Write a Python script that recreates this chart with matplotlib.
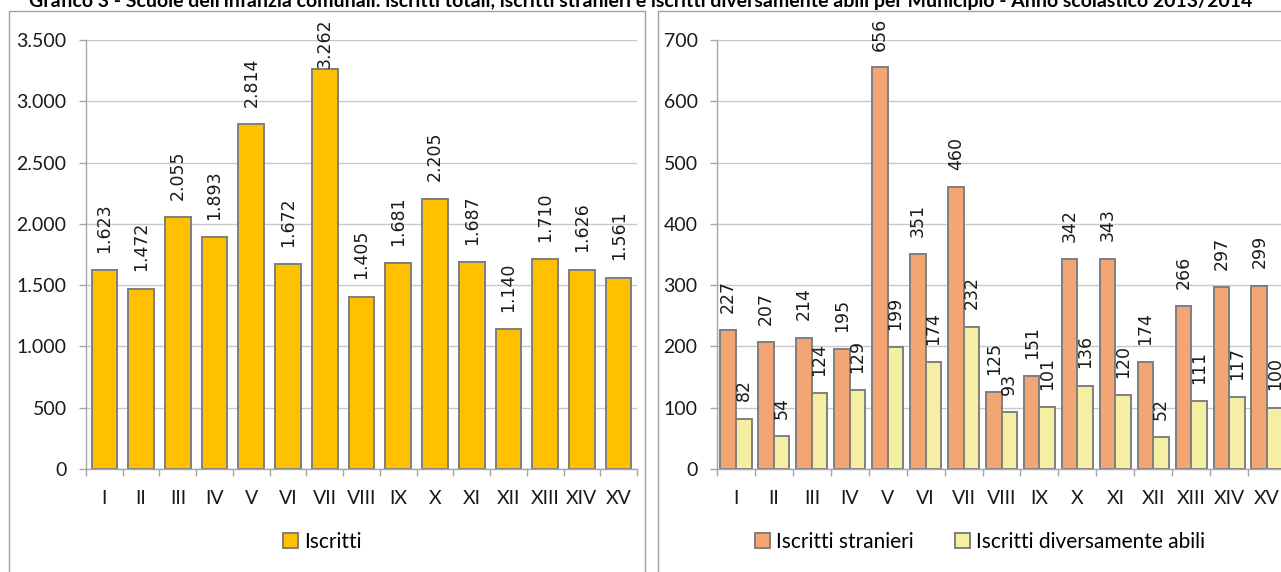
import matplotlib
matplotlib.use("Agg")
import matplotlib.pyplot as plt
import numpy as np
from matplotlib.patches import Rectangle

# data
municipi = ["I", "II", "III", "IV", "V", "VI", "VII", "VIII", "IX", "X",
            "XI", "XII", "XIII", "XIV", "XV"]
iscritti = [1623, 1472, 2055, 1893, 2814, 1672, 3262, 1405, 1681, 2205,
            1687, 1140, 1710, 1626, 1561]
stranieri = [227, 207, 214, 195, 656, 351, 460, 125, 151, 342, 343, 174,
             266, 297, 299]
disabili = [82, 54, 124, 129, 199, 174, 232, 93, 101, 136, 120, 52, 111,
            117, 100]

TITLE = ("Grafico 3 - Scuole dell'infanzia comunali: iscritti totali, iscritti stranieri "
         "e iscritti diversamente abili per Municipio - Anno scolastico 2013/2014")

W, H, DPI = 1281, 572, 100
FONT = "Lato"
LABEL_FONT = "DejaVu Sans"
EDGE = "#7F7F7F"
GOLD = "#FFC000"
ORANGE = "#F3A673"
YELLOW = "#F6EEA3"
GAP_PT = 12.5


def fmt_it(v):
    return f"{v:,.0f}".replace(",", ".")


def style_axis(ax, ymax, step):
    n = len(municipi)
    ax.set_xlim(-0.5, n - 0.5)
    ax.set_ylim(0, ymax)
    ax.set_yticks(np.arange(0, ymax + 1, step))
    ax.set_yticklabels([fmt_it(v) for v in np.arange(0, ymax + 1, step)])
    ax.set_xticks(np.arange(n))
    ax.set_xticklabels(municipi)
    ax.set_xticks(np.arange(-0.5, n), minor=True)
    ax.tick_params(axis="x", which="major", length=0, pad=15)
    ax.tick_params(axis="x", which="minor", length=5, color="#A6A6A6", width=1)
    ax.tick_params(axis="y", length=5, color="#A6A6A6", width=1, pad=9)
    for lab in ax.get_xticklabels() + ax.get_yticklabels():
        lab.set_fontfamily(FONT)
        lab.set_fontsize(14)
        lab.set_color("#1A1A1A")
    for s in ("top", "right"):
        ax.spines[s].set_visible(False)
    for s in ("left", "bottom"):
        ax.spines[s].set_color("#A6A6A6")
        ax.spines[s].set_linewidth(1)
    ax.grid(axis="y", color="#C8C8C8", linewidth=1)
    ax.set_axisbelow(True)


def add_labels(ax, xs, vals, store):
    for x, v in zip(xs, vals):
        t = ax.annotate(fmt_it(v), xy=(x, v), xytext=(0, GAP_PT),
                        textcoords="offset points", ha="center", va="bottom",
                        rotation=90, fontsize=12.5, family=LABEL_FONT,
                        color="#1A1A1A", annotation_clip=False)
        store.append(t)


fig = plt.figure(figsize=(W / DPI, H / DPI), dpi=DPI)

# panel frames
fig.patches.append(Rectangle((9 / W, -0.1), (645 - 9) / W, 1.1 - 11 / H,
                             transform=fig.transFigure, fill=False,
                             edgecolor="#A0A0A0", linewidth=1))
fig.patches.append(Rectangle((658 / W, -0.1), 0.6, 1.1 - 11 / H,
                             transform=fig.transFigure, fill=False,
                             edgecolor="#A0A0A0", linewidth=1))

fig.text(0.5, 1 - 7 / H, TITLE, ha="center", va="baseline", fontsize=14,
         fontweight="bold", family=FONT)

bottom = 1 - 469 / H
height = (469 - 40) / H
ax1 = fig.add_axes([86 / W, bottom, (637 - 86) / W, height])
ax2 = fig.add_axes([717 / W, bottom, (1286 - 717) / W, height])

x = np.arange(len(municipi))
labels = []

ax1.bar(x, iscritti, width=0.7, color=GOLD, edgecolor=EDGE, linewidth=1.4,
        label="Iscritti")
style_axis(ax1, 3500, 500)
add_labels(ax1, x, iscritti, labels)

w = 0.41
ax2.bar(x - w / 2, stranieri, width=w, color=ORANGE, edgecolor=EDGE,
        linewidth=1.4, label="Iscritti stranieri")
ax2.bar(x + w / 2, disabili, width=w, color=YELLOW, edgecolor=EDGE,
        linewidth=1.4, label="Iscritti diversamente abili")
style_axis(ax2, 700, 100)
add_labels(ax2, x - w / 2, stranieri, labels)
add_labels(ax2, x + w / 2, disabili, labels)

# keep labels inside the chart area like the spreadsheet does
fig.canvas.draw()
limit = H - 18
for t in labels:
    bb = t.get_window_extent()
    if bb.y1 > limit:
        shift = (bb.y1 - limit) * 72 / DPI
        t.xyann = (0, GAP_PT - shift)

leg_kw = dict(frameon=False, handlelength=0.72, handleheight=0.72,
              handletextpad=0.3, prop={"family": FONT, "size": 15},
              borderaxespad=0)
h1, l1 = ax1.get_legend_handles_labels()
fig.legend(h1, l1, loc="center", bbox_to_anchor=(322 / W, 1 - 542 / H), **leg_kw)
h2, l2 = ax2.get_legend_handles_labels()
fig.legend(h2, l2, loc="center", bbox_to_anchor=(980 / W, 1 - 542 / H),
           ncol=2, columnspacing=2.0, **leg_kw)

fig.savefig("out.png", dpi=DPI)
